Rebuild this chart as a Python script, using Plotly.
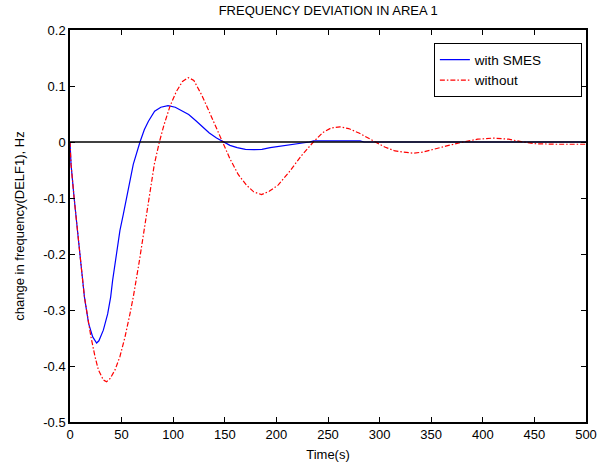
import plotly.graph_objects as go

# ---- data ----
t_smes = [0, 1, 4, 7, 10.5, 14, 18, 22, 25.8, 28, 32.3, 36.5, 39.4, 41.3, 43.6, 46.2, 48.4,
          51.7, 54.9, 58.1, 61.3, 67.8, 72, 76, 82, 88, 95, 102, 108, 115, 122, 129, 135,
          142, 148.6, 155, 162, 170, 178, 186, 194, 203, 212, 224, 232, 236, 281, 285, 500]
v_smes = [0, -0.04, -0.10, -0.158, -0.216, -0.277, -0.324, -0.348, -0.359, -0.355, -0.336,
          -0.307, -0.277, -0.247, -0.216, -0.188, -0.158, -0.129, -0.10, -0.069, -0.04, 0.0,
          0.022, 0.037, 0.055, 0.062, 0.065, 0.062, 0.056, 0.049, 0.038, 0.026, 0.016, 0.007,
          0.0, -0.006, -0.010, -0.013, -0.0136, -0.013, -0.010, -0.0077, -0.005, -0.003, 0.0,
          0.002, 0.002, 0.0, 0.0]

t_wo = [0, 1, 4, 7, 10.5, 14, 18, 20.3, 24.2, 27.5, 32.3, 35.5, 39, 43.6, 48.4, 53.3, 58.1,
        61.3, 66.9, 72, 76.9, 81.7, 86.6, 91, 96.9, 103, 109, 114.7, 120, 127.6, 133, 139,
        148, 155, 163, 171, 178, 185.6, 193, 201.6, 213, 224, 235.8, 245, 253, 261.6, 270,
        280, 288, 295.5, 305, 315, 325, 332.6, 342, 352, 365, 381, 395, 410, 425, 439, 450,
        470, 500]
v_wo = [0, -0.04, -0.10, -0.158, -0.216, -0.277, -0.324, -0.348, -0.383, -0.407, -0.425,
        -0.428, -0.422, -0.407, -0.383, -0.348, -0.307, -0.277, -0.216, -0.158, -0.10, -0.04,
        0.0, 0.03, 0.064, 0.09, 0.108, 0.115, 0.11, 0.084, 0.062, 0.036, 0.0, -0.03, -0.058,
        -0.077, -0.089, -0.094, -0.088, -0.077, -0.052, -0.025, 0.0, 0.017, 0.025, 0.027,
        0.024, 0.016, 0.008, 0.0, -0.009, -0.016, -0.019, -0.020, -0.018, -0.013, -0.007, 0.0,
        0.005, 0.007, 0.005, 0.0, -0.003, -0.004, -0.004]

x_ticks = [0, 50, 100, 150, 200, 250, 300, 350, 400, 450, 500]
y_ticks = [0.2, 0.1, 0, -0.1, -0.2, -0.3, -0.4, -0.5]
y_tick_text = ["0.2", "0.1", "0", "-0.1", "-0.2", "-0.3", "-0.4", "-0.5"]
series_names = ["with SMES", "without"]

FONT = "Arial, Liberation Sans, sans-serif"
PAD = "\u00a0" * 9

fig = go.Figure()
fig.add_hline(y=0, line=dict(color="black", width=1.3), layer="above")
fig.add_trace(go.Scatter(x=t_smes, y=v_smes, mode="lines", name=series_names[0] + PAD,
                         line=dict(color="#0000ff", width=1.2)))
fig.add_trace(go.Scatter(x=t_wo, y=v_wo, mode="lines", name=series_names[1] + PAD,
                         line=dict(color="#ff0000", width=1.2, dash="5px,2px,1.5px,2px")))

axis_common = dict(showgrid=False, zeroline=False, showline=True, linecolor="black",
                   linewidth=1.5, mirror="ticks", ticks="inside", ticklen=5,
                   tickcolor="black", automargin=False,
                   tickfont=dict(family=FONT, size=13, color="black"))

fig.update_layout(
    width=600, height=470,
    margin=dict(l=70, r=14, t=30, b=48),
    paper_bgcolor="white", plot_bgcolor="white",
    font=dict(family=FONT, size=13, color="black"),
    title=dict(text="FREQUENCY DEVIATION IN AREA 1", x=0.547, xanchor="center",
               y=0.977, yanchor="middle", automargin=False,
               font=dict(family=FONT, size=13, color="black")),
    xaxis=dict(range=[0, 500], tickvals=x_ticks,
               title=dict(text="Time(s)", standoff=9, font=dict(family=FONT, size=13)),
               **axis_common),
    yaxis=dict(range=[-0.5, 0.2], tickvals=y_ticks, ticktext=y_tick_text,
               title=dict(text="change in frequency(DELF1), Hz", standoff=16,
                          font=dict(family=FONT, size=13)),
               **axis_common),
    legend=dict(x=0.992, xanchor="right", y=0.966, yanchor="top",
                bgcolor="white", bordercolor="black", borderwidth=1,
                font=dict(family=FONT, size=13.5, color="black"),
                tracegroupgap=0),
    showlegend=True,
)

fig.write_html("out.html", config={"displayModeBar": False},
               post_script="document.body.style.margin='0';")
